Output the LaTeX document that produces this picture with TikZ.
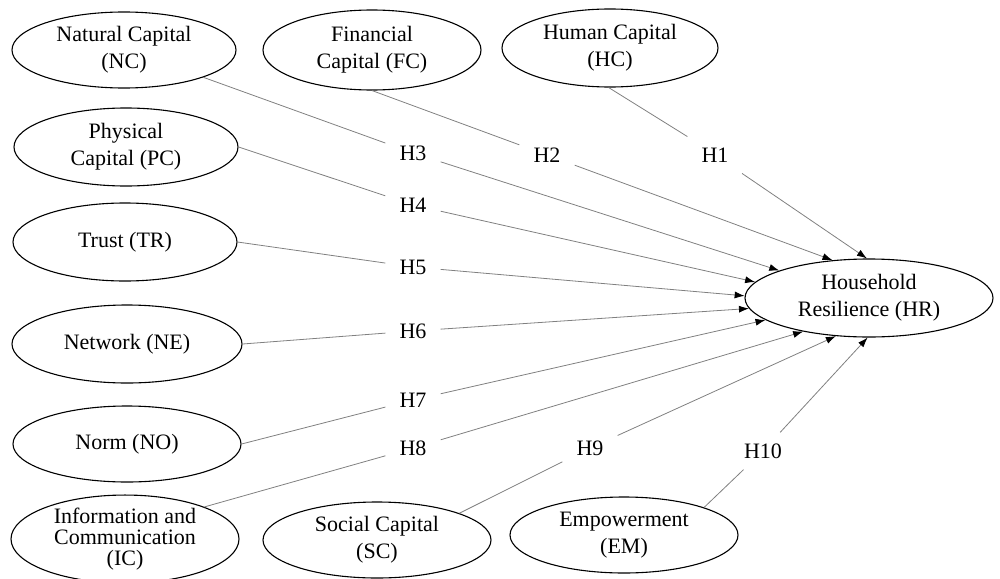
\documentclass[tikz,border=0pt]{standalone}
\usepackage{fontspec}
\setmainfont{Liberation Serif}
\usetikzlibrary{shapes.geometric,arrows.meta}
\definecolor{linegray}{RGB}{128,128,128}
\begin{document}
\begin{tikzpicture}[x=1pt,y=-1pt,
 var/.style={draw=black,line width=1.1pt,ellipse,inner sep=0pt,align=center,
   font=\fontsize{22}{27}\selectfont},
 hyp/.style={fill=white,inner xsep=14pt,inner ysep=11pt,font=\fontsize{22}{27}\selectfont},
 link/.style={draw=linegray,line width=0.8pt},
 arr/.style={link,-{Latex[black,length=10pt,width=7pt]}}]
\useasboundingbox (0,0) rectangle (1000,578);
% variables
\node[var,minimum width=224pt,minimum height=76pt] (NC) at (124,50) {Natural Capital\\(NC)};
\node[var,minimum width=218pt,minimum height=80pt] (FC) at (372,50) {Financial\\Capital (FC)};
\node[var,minimum width=216pt,minimum height=78pt] (HC) at (610,48) {Human Capital\\(HC)};
\node[var,minimum width=224pt,minimum height=78pt] (PC) at (126,147) {Physical\\Capital (PC)};
\node[var,minimum width=224pt,minimum height=78pt] (TR) at (125,242) {Trust (TR)};
\node[var,minimum width=230pt,minimum height=78pt] (NE) at (127,344) {Network (NE)};
\node[var,minimum width=228pt,minimum height=76pt] (NO) at (127,444) {Norm (NO)};
\node[var,minimum width=228pt,minimum height=76pt,font=\fontsize{22}{21}\selectfont] (IC) at (125,539) {Information and\\Communication\\(IC)};
\node[var,minimum width=228pt,minimum height=76pt] (SC) at (377,540) {Social Capital\\(SC)};
\node[var,minimum width=228pt,minimum height=76pt] (EM) at (624,535) {Empowerment\\(EM)};
\node[var,minimum width=248pt,minimum height=78pt] (HR) at (869,298) {Household\\Resilience (HR)};
% hypothesis labels
\node[hyp] (h1) at (715,155) {H1};
\node[hyp] (h2) at (547,155) {H2};
\node[hyp] (h3) at (413,153) {H3};
\node[hyp] (h4) at (413,205) {H4};
\node[hyp] (h5) at (413,267) {H5};
\node[hyp] (h6) at (413,331) {H6};
\node[hyp] (h7) at (413,400) {H7};
\node[hyp] (h8) at (413,448) {H8};
\node[hyp] (h9) at (590,448) {H9};
\node[hyp] (h10) at (763,451) {H10};
% connectors
\draw[link] (HC.268) -- (h1.north west); \draw[arr] (h1) -- (HR.93);
\draw[link] (FC.270) -- (h2); \draw[arr] (h2) -- (HR.134);
\draw[link] (NC.341) -- (h3); \draw[arr] (h3) -- (HR.163);
\draw[link] (PC.east) -- (h4); \draw[arr] (h4) -- (HR.172);
\draw[link] (TR.east) -- (h5); \draw[arr] (h5) -- (HR.179);
\draw[link] (NE.east) -- (h6); \draw[arr] (h6) -- (HR.185);
\draw[link] (NO.east) -- (h7); \draw[arr] (h7) -- (HR.192);
\draw[link] (IC.22) -- (h8); \draw[arr] (h8) -- (HR.207);
\draw[link] (SC.18) -- (h9); \draw[arr] (h9) -- (HR.229);
\draw[link] (EM.19) -- (h10); \draw[arr] (h10) -- (HR.268);
\end{tikzpicture}
\end{document}
